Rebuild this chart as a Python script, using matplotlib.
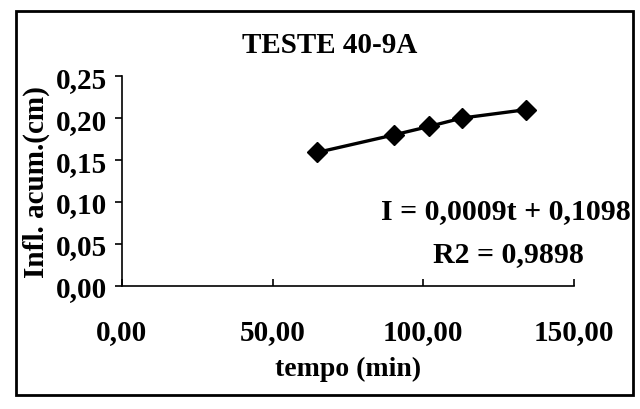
import matplotlib
matplotlib.use("Agg")
import matplotlib.pyplot as plt
from matplotlib.patches import Rectangle

tempo = [64.7, 90.3, 101.9, 112.8, 134.1]
infl = [0.159, 0.180, 0.190, 0.200, 0.210]
xticks = [0, 50, 100, 150]
yticks = [0.00, 0.05, 0.10, 0.15, 0.20, 0.25]

def br(v, d):
    return f"{v:.{d}f}".replace(".", ",")

plt.rcParams['font.family'] = ['Liberation Serif', 'DejaVu Serif']
plt.rcParams['font.weight'] = 'bold'

fig = plt.figure(figsize=(6.4, 4.1), dpi=100)
ax = fig.add_axes([0.1906, 0.300, 0.7063, 0.512])
ax.plot(tempo, infl, color='black', lw=2.4, marker='D', ms=10, mfc='black', mec='black')
ax.set_xlim(0, 150)
ax.set_ylim(0, 0.25)
ax.set_xticks(xticks)
ax.set_xticklabels([br(v, 2) for v in xticks], fontsize=21)
ax.set_yticks(yticks)
ax.set_yticklabels([br(v, 2) for v in yticks], fontsize=21)
for s in ['top', 'right']:
    ax.spines[s].set_visible(False)
for s in ['left', 'bottom']:
    ax.spines[s].set_linewidth(1.2)
ax.tick_params(axis='y', direction='out', length=5, width=1.2, pad=6)
ax.tick_params(axis='x', direction='in', length=5, width=1.2, pad=23)
ax.set_xlabel('tempo (min)', fontsize=20, fontweight='bold', labelpad=8)
ax.set_ylabel('Infl. acum.(cm)', fontsize=21, fontweight='bold', labelpad=4)
fig.text(0.515, 0.890, 'TESTE 40-9A', ha='center', va='center', fontsize=21, fontweight='bold')
fig.text(0.791, 0.483, 'I = 0,0009t + 0,1098', ha='center', va='center', fontsize=21.5, fontweight='bold')
fig.text(0.795, 0.378, 'R2 = 0,9898', ha='center', va='center', fontsize=21.5, fontweight='bold')
fig.patches.append(Rectangle((0.025, 0.034), 0.964, 0.937, transform=fig.transFigure,
                             fill=False, ec='black', lw=2))
fig.savefig('out.png', dpi=100)
